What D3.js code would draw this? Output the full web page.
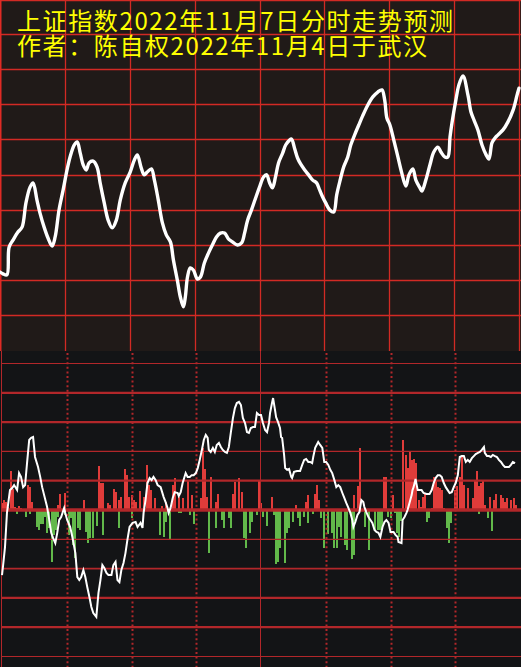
<!DOCTYPE html>
<html><head><meta charset="utf-8">
<script src="https://cdn.jsdelivr.net/npm/d3@7"></script>
<style>html,body{margin:0;padding:0;background:#131416;}svg{display:block;}</style>
</head><body>
<script>
// ---------- DATA ----------
const title1 = "上证指数2022年11月7日分时走势预测";
const title2 = "作者：陈自权2022年11月4日于武汉";

// top panel grid (minutes / level units)
const topGridMinutes = [30, 60, 90, 120, 150, 180, 210];
const topGridLevels = [1, 2, 3, 4, 5, 6, 7, 8, 9];
// bottom panel grid
const botGridLevels = [5, 4, 3, 2, 1, 0, -1, -2, -3, -4, -5];
const botDotMinutes = [30, 60, 90, 150, 180, 210];
const botSolidMinutes = [0, 120];

// top forecast line: [minute, level]
const topSeries = [[0,2.22],[1.4,2.17],[3.2,2.14],[4.2,2.93],[6,3.13],[8.3,3.36],[10.2,3.5],[12,4.19],[13.9,4.64],[15.3,4.76],[17.1,4.27],[18.5,3.9],[20.4,3.5],[22.2,3.19],[24.1,2.96],[25.5,3.22],[27.3,3.99],[29.2,4.56],[31,5.13],[32.4,5.5],[34.3,5.84],[35.7,5.93],[37.1,5.61],[38.5,5.27],[39.9,5.13],[41.2,5.33],[43.1,5.38],[44.9,5.21],[46.3,4.76],[48.2,4.19],[50,3.7],[51.9,3.48],[53.8,3.7],[55.6,4.27],[57.9,4.76],[60.2,5.07],[62.1,5.41],[63.5,5.56],[65.3,5.19],[66.7,4.99],[68.1,5.07],[70,5.16],[71.4,4.84],[73.2,4.27],[75.1,3.62],[76.9,3.28],[78.8,3.08],[80.2,2.56],[82,1.99],[83.4,1.51],[84.8,1.23],[85.7,1.51],[86.7,2.08],[88,2.34],[89.4,2.28],[91.3,2.02],[92.7,2.08],[94.5,2.48],[96.4,2.76],[98.2,2.99],[100.1,3.22],[101.9,3.33],[103.8,3.33],[105.7,3.16],[107.5,3.08],[109.8,2.99],[111.7,3.05],[113.1,3.33],[114.5,3.7],[116.3,3.99],[118.2,4.33],[120,4.64],[121.9,4.93],[123.3,4.99],[124.7,4.76],[126,4.62],[127.4,4.93],[128.8,5.33],[130.7,5.61],[132.1,5.84],[133.9,5.98],[134.8,6.01],[136.2,5.75],[137.6,5.47],[139,5.3],[140.9,5.13],[142.7,4.99],[144.6,4.84],[146.4,4.76],[147.8,4.56],[149.2,4.36],[150.6,4.19],[152.5,3.99],[154.3,3.93],[155.7,4.42],[157.1,4.79],[158.9,5.21],[160.8,5.5],[162.2,5.84],[164,6.13],[165.9,6.41],[167.7,6.67],[170.1,6.98],[172.4,7.21],[174.7,7.35],[176.6,7.41],[177.9,7.12],[178.9,6.61],[180.3,6.41],[182.1,5.98],[184,5.5],[185.8,5.04],[187.7,4.67],[189.1,4.99],[190.9,5.16],[192.3,4.84],[194.2,4.62],[195.1,4.53],[196.9,4.84],[198.8,5.27],[200.6,5.64],[202.5,5.78],[203.9,5.64],[205.7,5.5],[207.1,5.5],[208.1,6.07],[209,6.47],[210.8,7.12],[212.2,7.55],[214.1,7.81],[216.4,7.26],[217.8,6.78],[219.2,6.55],[221,6.27],[222.9,5.84],[224.8,5.56],[226.1,5.44],[227.5,5.9],[228.9,6.04],[230.3,6.13],[232.6,6.27],[234.9,6.5],[237.3,6.84],[239.1,7.26],[240,7.46]];

// bottom white line: [minute, value]
const botSeries = [[0,-2.22],[0.5,-1.9],[1.4,-1.26],[2.3,-0.1],[3.7,0.68],[4.7,0.75],[5.6,0.85],[7,0.68],[7.9,1.26],[8.8,1.13],[9.8,0.78],[10.7,0.85],[11.6,1.6],[12.6,2.39],[13.5,2.46],[14.4,2.49],[15.3,1.81],[16.7,1.47],[17.7,1.13],[18.6,0.78],[20.9,0.1],[21.9,-0.34],[22.8,-0.78],[23.7,-0.96],[24.7,-1.13],[25.6,-0.78],[26.5,-0.34],[27.4,-0.24],[28.8,0.07],[29.3,-0.1],[30.2,-0.34],[31.6,-0.58],[32.6,-0.92],[34,-1.47],[34.9,-2.29],[35.8,-2.39],[36.7,-2.29],[37.7,-2.05],[38.6,-2.29],[39.5,-2.63],[40.5,-2.97],[41.4,-3.31],[42.3,-3.52],[43.7,-3.65],[44.7,-2.83],[45.6,-2.39],[46.5,-1.88],[47.4,-1.98],[48.4,-2.15],[49.3,-2.22],[50.7,-2.22],[51.6,-1.88],[52.6,-1.77],[53.5,-2.39],[54.4,-2.46],[55.3,-2.05],[56.3,-1.81],[57.2,-1.47],[58.1,-1.02],[59.1,-0.58],[60.5,-0.44],[61.9,-0.41],[62.8,-0.58],[64.2,-0.44],[65.1,-0.61],[65.6,-0.1],[66.5,0.34],[67.4,0.92],[68.4,1.09],[69.3,1.02],[70.2,1.13],[71.2,1.02],[72.1,0.85],[73.5,0.78],[74.9,0.44],[75.8,0.27],[76.7,0.07],[77.2,-0.1],[78.1,0.07],[79.1,0.41],[80,0.61],[81.4,0.58],[81.9,0.48],[82.8,0.61],[83.7,0.92],[85.1,1.26],[86,1.13],[87,1.13],[87.9,1.19],[88.8,1.19],[89.8,1.26],[90.7,1.43],[91.6,1.71],[92.6,2.05],[93.5,2.39],[94.4,2.56],[95.3,2.46],[95.8,2.05],[96.7,1.98],[97.7,2.12],[98.6,1.98],[99.5,2.22],[100.5,2.29],[101.4,2.15],[102.3,2.05],[103.3,1.98],[104.2,1.95],[105.1,2.15],[106,2.63],[107,3.14],[107.9,3.48],[108.8,3.65],[109.8,3.69],[110.7,3.58],[111.6,3.14],[112.6,2.97],[113.5,2.66],[114.4,2.63],[115.3,2.8],[116.3,2.83],[117.2,2.83],[118.1,3.31],[119.1,3.24],[120,3.24],[120.9,2.97],[121.9,2.73],[122.8,2.66],[123.7,2.97],[124.2,3.31],[125.1,3.65],[125.6,3.82],[126.5,3.41],[127,3.17],[127.9,3],[128.8,2.8],[129.3,2.49],[129.8,2.46],[130.7,1.88],[131.2,1.43],[132.1,1.37],[133,1.4],[134,1.13],[134.4,1.09],[135.3,1.3],[136.7,1.33],[138.1,1.33],[139.1,1.54],[140,1.71],[140.9,1.74],[141.9,1.64],[142.8,1.64],[143.7,1.6],[144.2,1.81],[145.1,2.12],[146.5,2.32],[147.4,2.22],[148.4,2.12],[149.3,1.64],[150.2,1.64],[151.2,1.54],[152.1,1.37],[153,1.26],[154,1.02],[154.9,0.78],[155.8,0.85],[156.7,0.78],[157.7,0.58],[158.6,0.41],[159.5,0.24],[160.5,0.07],[161.4,-0.1],[162.3,-0.34],[162.8,-0.58],[163.7,-0.41],[164.7,-0.17],[165.6,-0.07],[166.5,0.34],[167.4,0.27],[167.9,0.1],[168.8,-0.07],[169.8,-0.24],[170.7,-0.34],[171.6,-0.44],[172.6,-0.68],[173.5,-0.75],[174.4,-0.78],[175.3,-0.92],[176.3,-0.58],[177.2,-0.41],[178.1,-0.34],[179.1,-0.44],[180,-0.75],[181.4,-0.75],[182.3,-0.85],[183.3,-0.92],[183.7,-1.09],[185.1,-1.13],[185.6,-0.34],[186.5,-0.24],[187.4,-0.1],[187.9,0],[188.8,0.24],[189.8,0.51],[190.2,0.68],[190.7,0.78],[191.6,1.06],[192.6,0.68],[193.5,0.68],[194.4,0.68],[195.3,0.58],[196.7,0.55],[198.1,0.55],[199.1,0.68],[200,0.92],[200.9,1.09],[201.9,1.19],[202.8,1.19],[203.7,1.13],[204.7,0.92],[205.6,0.78],[206.5,0.68],[207.4,0.58],[208.4,0.61],[209.3,0.78],[210.2,0.92],[211.2,1.19],[211.6,1.47],[212.1,1.81],[213,1.84],[214,1.84],[214.9,1.64],[215.8,1.71],[216.7,1.64],[217.7,1.77],[218.6,1.84],[219.5,1.91],[220.5,1.95],[221.4,1.98],[222.3,2.05],[223.3,2.15],[223.7,1.95],[224.7,1.84],[225.6,1.84],[226.5,1.81],[227.4,1.88],[228.4,1.84],[229.3,1.81],[230.2,1.71],[231.2,1.64],[232.1,1.54],[233,1.47],[234,1.47],[234.9,1.47],[235.8,1.54],[236.7,1.64],[237.7,1.6]];

// red (up) bars: [minute, value]
const redBars = [[0,0.24],[1,0.34],[2,0.27],[3,0.1],[4,1.33],[5,0.72],[6,0.1],[7,0.07],[8,0.14],[9,0.07],[12,0.85],[13,0.78],[14,0.27],[26,0.17],[27,0.55],[29,0.58],[38,0.34],[45,1.5],[46,0.92],[47,0.92],[49,0.24],[50,0.17],[52,0.72],[53,0.61],[54,0.34],[55,0.44],[57,1.4],[58,1.19],[59,0.44],[60,0.51],[61,0.34],[62,0.27],[64,0.65],[66,0.44],[67,1.54],[68,0.85],[69,0.68],[71,0.41],[74,0.14],[76,0.27],[79,0.85],[80,1.09],[82,0.44],[84,0.41],[86,1.02],[88,0.51],[92,0.41],[93,2.1],[94,1.4],[95,0.44],[97,1.13],[99,0.27],[100,0.55],[107,0.55],[108,0.96],[110,1.09],[111,0.61],[119,0.99],[120,0.24],[125,0.44],[136,0.17],[141,0.27],[142,0.51],[145,0.55],[146,0.85],[147,0.34],[163,0.51],[165,0.82],[166,2.12],[177,1.13],[178,1.13],[181,0.51],[186,2.39],[187,1.88],[188,1.43],[189,1.98],[190,1.71],[191,1.74],[192,1.6],[193,0.34],[194,0.1],[195,0.44],[196,0.58],[199,0.07],[200,1.13],[201,1.02],[202,0.78],[203,0.75],[204,0.68],[205,0.07],[210,0.68],[211,0.82],[212,1.13],[213,1.81],[214,0.85],[216,0.75],[218,0.41],[219,1.02],[220,1.33],[221,0.82],[222,0.92],[223,1.02],[224,0.17],[226,0.44],[228,0.34],[229,0.55],[231,0.51],[232,0.41],[233,0.27],[234,0.41],[236,0.34],[237,0.41],[238,0.17]];

// green (down) bars: [minute, value]
const greenBars = [[7,-0.14],[11,-0.24],[13,-0.14],[16,-0.58],[17,-0.68],[18,-0.48],[19,-0.48],[20,-0.24],[21,-0.78],[22,-0.61],[23,-1.77],[24,-0.85],[25,-0.68],[26,-0.24],[29,-0.17],[31,-0.85],[32,-0.27],[33,-1.19],[34,-1.64],[35,-0.61],[36,-0.68],[39,-0.75],[40,-1.13],[41,-0.96],[42,-0.96],[44,-0.55],[47,-0.85],[54,-0.61],[60,-0.27],[73,-0.85],[75,-0.92],[76,-0.41],[78,-0.99],[82,-0.1],[83,-0.1],[87,-0.17],[89,-0.48],[96,-1.47],[99,-0.61],[102,-0.34],[103,-0.61],[105,-0.27],[106,-0.61],[112,-0.96],[113,-1.3],[115,-0.78],[116,-0.41],[118,-0.17],[121,-0.24],[123,-0.55],[126,-0.17],[127,-1.84],[128,-1.77],[129,-1.3],[131,-1.81],[132,-0.78],[133,-0.61],[135,-0.41],[137,-0.27],[138,-0.55],[140,-0.24],[142,-0.44],[144,-0.14],[148,-0.27],[149,-1.3],[151,-0.82],[153,-0.78],[154,-1.3],[155,-1.3],[156,-0.58],[157,-0.92],[159,-1.19],[160,-1.37],[162,-1.67],[163,-1.54],[168,-0.58],[170,-1.37],[173,-0.68],[174,-0.68],[175,-0.68],[176,-0.68],[179,-0.24],[180,-0.27],[182,-0.1],[183,-0.78],[184,-0.92],[185,-0.38],[197,-0.41],[198,-0.27],[206,-0.61],[207,-1.13],[208,-0.44],[221,-0.14],[225,-0.27],[227,-0.72]];

// ---------- DRAW ----------
const W = 521, H = 667;
const svg = d3.select("body").append("svg").attr("width", W).attr("height", H);

// ===== top panel =====
const topX = d3.scaleLinear().domain([0, 240]).range([0, 519]);
const topY = d3.scaleLinear().domain([0, 10]).range([350, -1]);
const topGrid = "#d22a24";

svg.append("rect").attr("x", 0).attr("y", 0).attr("width", W).attr("height", 351).attr("fill", "#201a18");

svg.append("g").selectAll("line").data(topGridLevels).join("line")
  .attr("x1", 0).attr("x2", W)
  .attr("y1", d => Math.round(topY(d)) + 0.5).attr("y2", d => Math.round(topY(d)) + 0.5)
  .attr("stroke", topGrid).attr("stroke-width", 1.3);

svg.append("g").selectAll("line").data(topGridMinutes).join("line")
  .attr("x1", d => Math.round(topX(d)) + 0.5).attr("x2", d => Math.round(topX(d)) + 0.5)
  .attr("y1", 0).attr("y2", 351)
  .attr("stroke", topGrid).attr("stroke-width", 1.3);

// borders
svg.append("line").attr("x1", 0).attr("x2", W).attr("y1", 0.5).attr("y2", 0.5).attr("stroke", topGrid).attr("stroke-width", 1.5);
svg.append("line").attr("x1", 0.75).attr("x2", 0.75).attr("y1", 0).attr("y2", 351).attr("stroke", "#e02a24").attr("stroke-width", 1.5);
svg.append("line").attr("x1", topX(240) + 0.5).attr("x2", topX(240) + 0.5).attr("y1", 0).attr("y2", 351).attr("stroke", topGrid).attr("stroke-width", 1.3);

// titles
const tt = svg.append("g").attr("fill", "#ffff00")
  .attr("font-family", "'Noto Sans CJK SC', 'Noto Sans CJK JP', sans-serif")
  .attr("font-size", 24);
tt.append("text").attr("x", 17).attr("y", 30).attr("textLength", 436).attr("lengthAdjust", "spacing").text(title1);
tt.append("text").attr("x", 17).attr("y", 55).attr("textLength", 410).attr("lengthAdjust", "spacing").text(title2);

// top line
svg.append("path").datum(topSeries)
  .attr("fill", "none").attr("stroke", "#ffffff").attr("stroke-width", 3.4)
  .attr("stroke-linejoin", "round").attr("stroke-linecap", "round")
  .attr("d", d3.line().x(d => topX(d[0])).y(d => topY(d[1])).curve(d3.curveCatmullRom.alpha(0.5)));

// ===== bottom panel =====
const botTop = 351;
const botX = d3.scaleLinear().domain([0, 240]).range([2, 520]);
const botY = d3.scaleLinear().domain([-5, 5]).range([656.5, 363.5]);
const botGrid = "#b2272a";

svg.append("rect").attr("x", 0).attr("y", botTop).attr("width", W).attr("height", H - botTop).attr("fill", "#131416");

// bars
const gb = svg.append("g").attr("shape-rendering", "crispEdges");
gb.selectAll("rect.r").data(redBars).join("rect").attr("class", "r")
  .attr("x", d => Math.round(botX(d[0])) - 1).attr("width", 2)
  .attr("y", d => botY(d[1])).attr("height", d => botY(0) - botY(d[1]))
  .attr("fill", "#e03c3a");
gb.selectAll("rect.g").data(greenBars).join("rect").attr("class", "g")
  .attr("x", d => Math.round(botX(d[0])) - 1).attr("width", 2)
  .attr("y", botY(0)).attr("height", d => botY(d[1]) - botY(0))
  .attr("fill", "#62b94a");

// horizontal grid
function lw(v) {
  if (v === 0) return 3.5;
  if (v === 4 || v === 3 || v === 1 || v === -3 || v === -4) return 2.2;
  if (v === -2) return 1.6;
  return 1.2;
}
svg.append("g").selectAll("line").data(botGridLevels).join("line")
  .attr("x1", 2).attr("x2", W)
  .attr("y1", d => botY(d)).attr("y2", d => botY(d))
  .attr("stroke", botGrid).attr("stroke-width", d => lw(d));

// vertical dotted lines
svg.append("g").selectAll("line").data(botDotMinutes).join("line")
  .attr("x1", d => Math.round(botX(d)) + 0.5).attr("x2", d => Math.round(botX(d)) + 0.5)
  .attr("y1", botTop + 2).attr("y2", H)
  .attr("stroke", botGrid).attr("stroke-width", 2).attr("stroke-dasharray", "2,2.6");

// solid verticals (open & midday)
svg.append("g").selectAll("line").data(botSolidMinutes).join("line")
  .attr("x1", d => Math.round(botX(d)) - 0.5).attr("x2", d => Math.round(botX(d)) - 0.5)
  .attr("y1", botTop).attr("y2", H)
  .attr("stroke", botGrid).attr("stroke-width", 1);

// white line
svg.append("path").datum(botSeries)
  .attr("fill", "none").attr("stroke", "#ffffff").attr("stroke-width", 2)
  .attr("stroke-linejoin", "miter")
  .attr("d", d3.line().x(d => botX(d[0])).y(d => botY(d[1])));
</script>
</body></html>
